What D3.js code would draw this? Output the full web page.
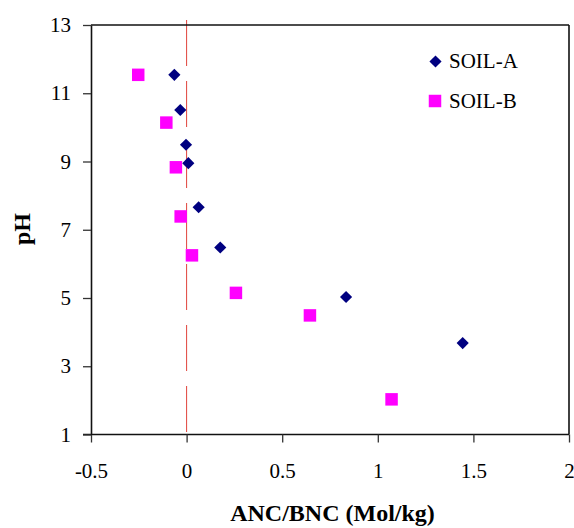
<!DOCTYPE html>
<html>
<head>
<meta charset="utf-8">
<script src="https://cdn.jsdelivr.net/npm/d3@7/dist/d3.min.js"></script>
<style>
  html, body { margin: 0; padding: 0; background: #fff; }
  svg { display: block; }
  text { font-family: "Liberation Serif", "Times New Roman", serif; fill: #000; }
</style>
</head>
<body>
<svg id="chart" width="574" height="528"></svg>
<script>
// Data
const soilA_x = [-0.064, -0.033, -0.003, 0.009, 0.063, 0.176, 0.834, 1.444];
const soilA_y = [11.54, 10.51, 9.49, 8.95, 7.66, 6.48, 5.03, 3.68];
const soilB_x = [-0.253, -0.106, -0.056, -0.031, 0.028, 0.258, 0.645, 1.072];
const soilB_y = [11.54, 10.14, 8.83, 7.39, 6.25, 5.15, 4.49, 2.03];
const seriesNames = ["SOIL-A", "SOIL-B"];
const xTicks = [-0.5, 0, 0.5, 1, 1.5, 2];
const xTickLabels = ["-0.5", "0", "0.5", "1", "1.5", "2"];
const yTicks = [1, 3, 5, 7, 9, 11, 13];
const yTickLabels = ["1", "3", "5", "7", "9", "11", "13"];
const xTitle = "ANC/BNC (Mol/kg)";
const yTitle = "pH";

const svg = d3.select("#chart");
const x = d3.scaleLinear().domain([-0.5, 2]).range([91, 569]);
const y = d3.scaleLinear().domain([1, 13]).range([434.5, 25]);

// zero reference line (dashed)
svg.append("line")
  .attr("x1", x(0)).attr("x2", x(0))
  .attr("y1", y(13) - 5).attr("y2", y(1))
  .attr("stroke", "#e0443c").attr("stroke-width", 1)
  .attr("stroke-dasharray", "46,15");

// frame top and right
svg.append("line").attr("x1", x(-0.5)).attr("x2", x(2)).attr("y1", y(13)).attr("y2", y(13))
  .attr("stroke", "#111").attr("stroke-width", 1.6);
svg.append("line").attr("x1", x(2)).attr("x2", x(2)).attr("y1", y(13)).attr("y2", y(1))
  .attr("stroke", "#111").attr("stroke-width", 1.6);

// axes
const xAxis = d3.axisBottom(x).tickValues(xTicks)
  .tickFormat((d, i) => xTickLabels[i]).tickSizeInner(8).tickSizeOuter(0).tickPadding(21);
const yAxis = d3.axisLeft(y).tickValues(yTicks)
  .tickFormat((d, i) => yTickLabels[i]).tickSizeInner(8).tickSizeOuter(0).tickPadding(12);

const gx = svg.append("g").attr("transform", `translate(0,${y(1)})`).call(xAxis);
const gy = svg.append("g").attr("transform", `translate(${x(-0.5)},0)`).call(yAxis);
[gx, gy].forEach(g => {
  g.select(".domain").attr("stroke", "#111").attr("stroke-width", 1.6);
  g.selectAll(".tick line").attr("stroke", "#333").attr("stroke-width", 1.3);
  g.selectAll(".tick text").attr("font-family", "Liberation Serif, Times New Roman, serif")
    .attr("font-size", 21).attr("fill", "#000");
});
gx.select(".domain").attr("d", `M${x(-0.5) - 8},0H${x(2)}`);

// markers
const diamond = d3.symbol().type(d3.symbolSquare).size(74);
const square = d3.symbol().type(d3.symbolSquare).size(156);

svg.append("g").selectAll("path")
  .data(soilB_x.map((v, i) => [v, soilB_y[i]]))
  .join("path")
  .attr("d", square)
  .attr("transform", d => `translate(${x(d[0])},${y(d[1])})`)
  .attr("fill", "#ff00ff");

svg.append("g").selectAll("path")
  .data(soilA_x.map((v, i) => [v, soilA_y[i]]))
  .join("path")
  .attr("d", diamond)
  .attr("transform", d => `translate(${x(d[0])},${y(d[1])}) rotate(45)`)
  .attr("fill", "#000080");

// legend
const leg = svg.append("g");
leg.append("path").attr("d", diamond).attr("transform", "translate(435.5,61.5) rotate(45)").attr("fill", "#000080");
leg.append("text").attr("x", 449).attr("y", 67.5).attr("font-size", 21).text(seriesNames[0]);
leg.append("path").attr("d", square).attr("transform", "translate(435,101)").attr("fill", "#ff00ff");
leg.append("text").attr("x", 449).attr("y", 107.5).attr("font-size", 21).text(seriesNames[1]);

// titles
svg.append("text").attr("x", 332.5).attr("y", 521).attr("text-anchor", "middle")
  .attr("font-size", 24).attr("font-weight", "bold").text(xTitle);
svg.append("text").attr("transform", "translate(30,229) rotate(-90)").attr("text-anchor", "middle")
  .attr("font-size", 24).attr("font-weight", "bold").text(yTitle);
</script>
</body>
</html>
